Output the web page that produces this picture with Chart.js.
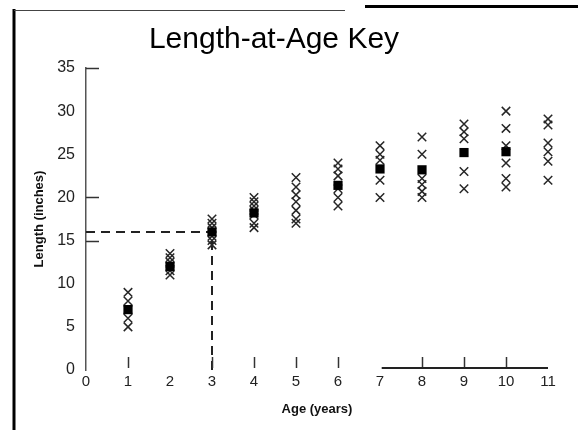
<!DOCTYPE html>
<html>
<head>
<meta charset="utf-8">
<script src="https://cdn.jsdelivr.net/npm/chart.js@4.4.1/dist/chart.umd.min.js"></script>
<style>
  html, body { margin: 0; padding: 0; background: #fff; }
  #wrap { width: 578px; height: 430px; }
</style>
</head>
<body>
<div id="wrap"><canvas id="c" width="578" height="430"></canvas></div>
<script>
// ---- data ----
const ages = [1, 2, 3, 4, 5, 6, 7, 8, 9, 10, 11];
const lengthsByAge = [
  [9, 8, 7, 6, 5],
  [13.5, 13, 12.5, 12, 11.5, 11],
  [17.5, 17, 16.5, 16, 15.5, 15, 14.5],
  [20, 19.5, 19, 18.5, 18, 17, 16.5],
  [22.3, 21.2, 20.3, 19.5, 18.5, 17.5, 17],
  [24, 23.3, 22.5, 21, 20, 19],
  [26, 25, 24.3, 22, 20],
  [27, 25, 22.2, 21.5, 20.7, 20],
  [28.5, 27.6, 26.8, 23, 21],
  [30, 28, 26, 24, 22.2, 21.2],
  [29.1, 28.4, 26.3, 25.3, 24.2, 22]
];
const meanLengths = [7, 12, 16, 18.2, null, 21.4, 23.3, 23.2, 25.2, 25.3, null];
const keyAge = 3;
const keyLength = 16;
const xTickValues = [0, 1, 2, 3, 4, 5, 6, 7, 8, 9, 10, 11];
const yTickValues = [0, 5, 10, 15, 20, 25, 30, 35];
const xTickMarks = [1, 3, 4, 5, 6, 8, 9, 10];
const yTickMarks = [35, 20, 15];
const baselineRange = [6.85, 11];

// ---- build datasets ----
const fishPoints = [];
ages.forEach((a, i) => lengthsByAge[i].forEach(v => fishPoints.push({ x: a, y: v })));
const meanPoints = ages.map((a, i) => ({ x: a, y: meanLengths[i] })).filter(p => p.y !== null);
const keyLine = [{ x: 0, y: keyLength }, { x: keyAge, y: keyLength }, { x: keyAge, y: 0 }];

const decor = {
  id: 'decor',
  beforeDraw(chart) {
    const ctx = chart.ctx;
    ctx.save();
    ctx.strokeStyle = '#000';
    ctx.lineWidth = 3;
    ctx.beginPath(); ctx.moveTo(14, 9); ctx.lineTo(14, 430); ctx.stroke();
    ctx.lineWidth = 1;
    ctx.strokeStyle = '#444';
    ctx.beginPath(); ctx.moveTo(14, 10.5); ctx.lineTo(345, 10.5); ctx.stroke();
    ctx.strokeStyle = '#000';
    ctx.lineWidth = 3;
    ctx.beginPath(); ctx.moveTo(365, 6.5); ctx.lineTo(578, 6.5); ctx.stroke();
    ctx.restore();
  },
  afterDraw(chart) {
    const ctx = chart.ctx;
    const xs = chart.scales.x, ys = chart.scales.y;
    ctx.save();
    ctx.strokeStyle = '#333';
    ctx.lineWidth = 1.5;
    const y0 = ys.getPixelForValue(0) - 2;
    xTickMarks.forEach(v => {
      const px = Math.round(xs.getPixelForValue(v)) + 0.5;
      ctx.beginPath(); ctx.moveTo(px, y0); ctx.lineTo(px, y0 - 11); ctx.stroke();
    });
    const ax = xs.getPixelForValue(0);
    yTickMarks.forEach(v => {
      const py = Math.round(ys.getPixelForValue(v)) + 0.5;
      ctx.beginPath(); ctx.moveTo(ax, py); ctx.lineTo(ax + 13, py); ctx.stroke();
    });
    ctx.lineWidth = 2;
    ctx.strokeStyle = '#222';
    ctx.beginPath();
    ctx.moveTo(xs.getPixelForValue(baselineRange[0]) + 8, y0);
    ctx.lineTo(xs.getPixelForValue(baselineRange[1]), y0);
    ctx.stroke();
    ctx.restore();
  }
};

new Chart(document.getElementById('c'), {
  type: 'scatter',
  data: {
    datasets: [
      {
        label: 'Key',
        type: 'line',
        data: keyLine,
        borderColor: '#222',
        borderWidth: 2,
        borderDash: [9, 6],
        pointRadius: 0,
        fill: false,
        tension: 0,
        order: 3
      },
      {
        label: 'Fish',
        data: fishPoints,
        pointStyle: 'crossRot',
        pointRadius: 6,
        borderColor: '#262626',
        borderWidth: 1.5,
        backgroundColor: '#262626',
        order: 2
      },
      {
        label: 'Mean',
        data: meanPoints,
        pointStyle: 'rect',
        pointRadius: 6.5,
        borderColor: '#000',
        backgroundColor: '#000',
        borderWidth: 0,
        order: 1
      }
    ]
  },
  options: {
    responsive: false,
    animation: false,
    devicePixelRatio: 1,
    clip: false,
    layout: { padding: { left: 0, right: 30, top: 0, bottom: 0 } },
    plugins: {
      legend: { display: false },
      tooltip: { enabled: false },
      title: {
        display: true,
        text: 'Length-at-Age Key',
        color: '#000',
        font: { family: 'Liberation Sans, Arial, sans-serif', size: 30, weight: 'normal', lineHeight: 1.2 },
        padding: { top: 22, bottom: 10 }
      }
    },
    scales: {
      x: {
        type: 'linear',
        min: 0, max: 11,
        afterFit(s) { s.height = 60; },
        afterBuildTicks(s) { s.ticks = xTickValues.map(v => ({ value: v })); },
        grid: { display: false, drawTicks: false },
        border: { display: false },
        ticks: {
          color: '#222',
          padding: 3,
          font: { family: 'Liberation Sans, Arial, sans-serif', size: 15 }
        },
        title: {
          display: true,
          text: 'Age (years)',
          color: '#111',
          font: { family: 'Liberation Sans, Arial, sans-serif', size: 13, weight: 'bold', lineHeight: 1.2 },
          padding: { top: 0, bottom: 13 }
        }
      },
      y: {
        type: 'linear',
        min: 0, max: 35,
        afterFit(s) { s.width = 86; },
        afterBuildTicks(s) { s.ticks = yTickValues.map(v => ({ value: v })); },
        grid: { display: false, drawTicks: false },
        border: { display: true, color: '#555', width: 1.5 },
        ticks: {
          color: '#222',
          padding: 11,
          font: { family: 'Liberation Sans, Arial, sans-serif', size: 16 }
        },
        title: {
          display: true,
          text: 'Length (inches)',
          color: '#111',
          font: { family: 'Liberation Sans, Arial, sans-serif', size: 13, weight: 'bold', lineHeight: 1.2 },
          padding: { top: 32, bottom: 0 }
        }
      }
    }
  },
  plugins: [decor]
});
</script>
</body>
</html>
